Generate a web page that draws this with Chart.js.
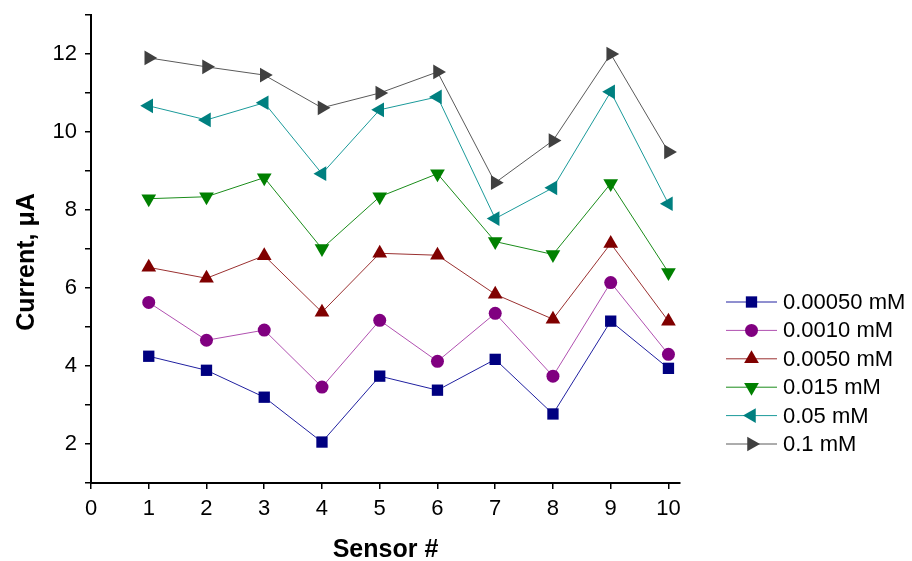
<!DOCTYPE html>
<html>
<head>
<meta charset="utf-8">
<script src="https://cdn.jsdelivr.net/npm/chart.js@4.4.1/dist/chart.umd.min.js"></script>
<style>
  html, body { margin: 0; padding: 0; background: #fff; }
  #wrap { width: 912px; height: 561px; }
</style>
</head>
<body>
<div id="wrap"><canvas id="sensorChart" width="912" height="561"></canvas></div>
<script>
// sensor numbers along x
const sensors = [1, 2, 3, 4, 5, 6, 7, 8, 9, 10];

// current (uA) per concentration
const c00050 = [4.25, 3.89, 3.20, 2.05, 3.74, 3.38, 4.17, 2.77, 5.15, 3.94];
const c0010  = [5.63, 4.66, 4.92, 3.46, 5.17, 4.12, 5.35, 3.74, 6.14, 4.30];
const c0050  = [6.53, 6.25, 6.83, 5.38, 6.89, 6.84, 5.84, 5.20, 7.14, 5.15];
const c015   = [8.29, 8.34, 8.83, 7.01, 8.34, 8.93, 7.19, 6.86, 8.68, 6.40];
const c05    = [10.67, 10.31, 10.75, 8.93, 10.57, 10.90, 7.78, 8.57, 11.03, 8.16];
const c1     = [11.90, 11.67, 11.46, 10.62, 11.00, 11.54, 8.70, 9.78, 12.00, 9.49];

const seriesNames = ['0.00050 mM', '0.0010 mM', '0.0050 mM', '0.015 mM', '0.05 mM', '0.1 mM'];
const seriesValues = [c00050, c0010, c0050, c015, c05, c1];
const markerColors = ['#000080', '#800080', '#800000', '#008000', '#008080', '#404040'];
const lineColors = ['#2020a0', '#b050b0', '#9a3030', '#1a8c1a', '#1a9a9a', '#5a5a5a'];
const shapes = ['rect', 'circle', 'triangle', 'triangle', 'triangle', 'triangle'];
const rotations = [0, 0, 0, 180, 270, 90];
const radii = [8, 6.5, 8.5, 8.5, 8.5, 8.5];

const FONT = '"Liberation Sans", Arial, sans-serif';
const yTitle = 'Current, μA';

const datasets = seriesNames.map((name, i) => ({
    label: name,
    data: sensors.map((s, j) => ({ x: s, y: seriesValues[i][j] })),
    borderColor: lineColors[i],
    borderWidth: 1,
    backgroundColor: markerColors[i],
    pointBackgroundColor: markerColors[i],
    pointBorderColor: markerColors[i],
    pointBorderWidth: 0,
    pointStyle: shapes[i],
    pointRotation: rotations[i],
    pointRadius: radii[i],
    tension: 0
}));

// legend next to the plot (line + marker) and the rotated y title
const extras = {
    id: 'extras',
    afterDraw(chart) {
        const ctx = chart.ctx;
        const x0 = 726, x1 = 777, top = 302, step = 28.4;
        ctx.save();
        chart.data.datasets.forEach((ds, i) => {
            const y = top + i * step;
            ctx.strokeStyle = ds.borderColor;
            ctx.lineWidth = 1;
            ctx.beginPath();
            ctx.moveTo(x0, y);
            ctx.lineTo(x1, y);
            ctx.stroke();
            ctx.fillStyle = ds.pointBackgroundColor;
            ctx.strokeStyle = ds.pointBorderColor;
            Chart.helpers.drawPoint(ctx, {
                pointStyle: ds.pointStyle,
                rotation: ds.pointRotation,
                radius: ds.pointRadius,
                borderWidth: 0
            }, (x0 + x1) / 2, y);
            ctx.fillStyle = '#000';
            ctx.font = '22px ' + FONT;
            ctx.textAlign = 'left';
            ctx.textBaseline = 'middle';
            ctx.fillText(ds.label, 783, y + 1);
        });

        ctx.translate(27, 262);
        ctx.rotate(-Math.PI / 2);
        ctx.font = 'bold 25px ' + FONT;
        ctx.textAlign = 'center';
        ctx.textBaseline = 'middle';
        ctx.fillStyle = '#000';
        ctx.fillText(yTitle, 0, 0);
        ctx.restore();
    }
};

new Chart(document.getElementById('sensorChart'), {
    type: 'line',
    data: { datasets: datasets },
    options: {
        responsive: false,
        animation: false,
        layout: { padding: { top: 15, right: 232, left: 0, bottom: 0 } },
        plugins: {
            legend: { display: false },
            tooltip: { enabled: false }
        },
        scales: {
            x: {
                type: 'linear',
                min: 0,
                max: 10.2,
                afterFit: (s) => { s.height = 78; s.paddingLeft = 0; s.paddingRight = 0; },
                border: { display: true, color: '#000', width: 2 },
                grid: { display: true, drawOnChartArea: false, drawTicks: true, tickLength: 6, color: '#000', lineWidth: 1.5 },
                ticks: {
                    stepSize: 1,
                    includeBounds: false,
                    color: '#000',
                    padding: 7,
                    maxRotation: 0,
                    font: { family: FONT, size: 22 }
                },
                title: {
                    display: true,
                    text: 'Sensor #',
                    color: '#000',
                    padding: { top: 0, bottom: 0 },
                    font: { family: FONT, size: 25, weight: 'bold', lineHeight: 0.9 }
                }
            },
            y: {
                min: 1,
                max: 13,
                afterFit: (s) => { s.width = 91; s.paddingTop = 0; s.paddingBottom = 0; },
                border: { display: true, color: '#000', width: 2 },
                grid: { display: true, drawOnChartArea: false, drawTicks: true, tickLength: 6, color: '#000', lineWidth: 1.5 },
                ticks: {
                    stepSize: 1,
                    color: '#000',
                    padding: 8,
                    font: { family: FONT, size: 22 },
                    callback: (v) => (v % 2 === 0 ? v : '')
                },
                title: { display: false }
            }
        }
    },
    plugins: [extras]
});
</script>
</body>
</html>
